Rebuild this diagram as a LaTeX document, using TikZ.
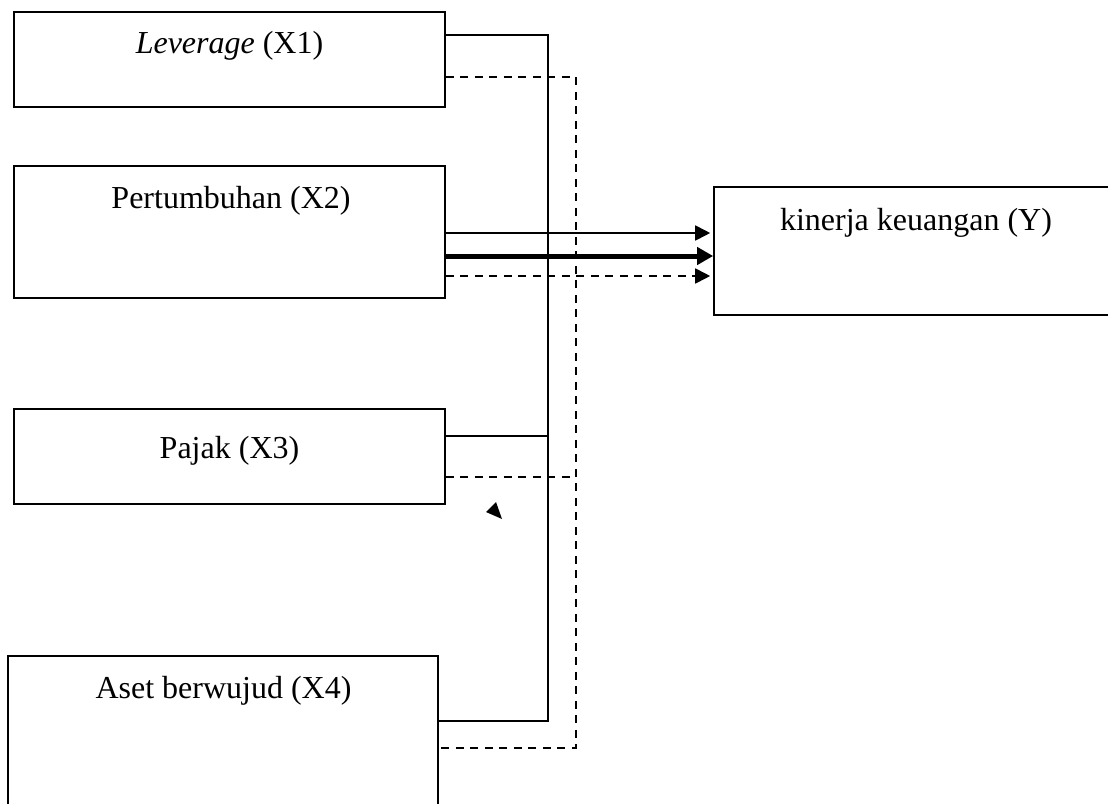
\documentclass[tikz,border=0pt]{standalone}
\usepackage{fontspec}
\setmainfont{Liberation Serif}
\usetikzlibrary{arrows.meta,calc}
\tikzset{
  boxnode/.style={draw, line width=1.6pt, inner sep=0pt, rectangle},
  lbl/.style={anchor=base, inner sep=0pt, font=\fontsize{32}{38}\selectfont},
  conn/.style={line width=1.8pt},
  dconn/.style={line width=1.8pt, dash pattern=on 8pt off 6.5pt},
  tip/.style={-{Triangle[length=15pt,width=15pt]}, shorten >=3pt},
  bigtip/.style={-{Triangle[length=16pt,width=17pt]}, line width=5pt},
}
\begin{document}
\begin{tikzpicture}[x=1pt,y=-1pt]
\path[use as bounding box, clip] (0,0) rectangle (1108,803);
\fill[white] (0,0) rectangle (1108,803);

% boxes
\node[boxnode, minimum width=431pt, minimum height=95pt] (x1) at (229.5,59.5) {};
\node[boxnode, minimum width=431pt, minimum height=132pt] (x2) at (229.5,232) {};
\node[boxnode, minimum width=431pt, minimum height=95pt] (x3) at (229.5,456.5) {};
\node[boxnode, minimum width=430pt, minimum height=180pt] (x4) at (223,746) {};
\node[boxnode, minimum width=430pt, minimum height=128pt] (y) at (929,251) {};

% labels
\node[lbl] (t1) at (229.5,53) {\textit{Leverage} (X1)};
\node[lbl] (t2) at (231,208) {Pertumbuhan (X2)};
\node[lbl] (t3) at (229.5,458) {Pajak (X3)};
\node[lbl] (t4) at (223.5,698) {Aset berwujud (X4)};
\node[lbl] (ty) at (916,230) {kinerja keuangan (Y)};

% junction coordinates
\coordinate (s1) at (548,35);
\coordinate (s3) at (548,436);
\coordinate (s4) at (548,721);
\coordinate (d1) at (576,77);
\coordinate (d3) at (576,477);
\coordinate (d4) at (576,748);
\coordinate (a1) at (0,233);
\coordinate (a2) at (0,256);
\coordinate (a3) at (0,276);

% solid bus
\draw[conn] (x1.east |- s1) -- (s1) -- (s4) -- (x4.east |- s4);
\draw[conn] (x3.east |- s3) -- (s3);
% dashed bus
\draw[dconn] (x1.east |- d1) -- (d1) -- (d4) -- (x4.east |- d4);
\draw[dconn] (x3.east |- d3) -- (d3);

% arrows from X2 to Y
\draw[conn, tip] (x2.east |- a1) -- (y.west |- a1);
\draw[bigtip] (x2.east |- a2) -- (y.west |- a2);
\draw[dconn, tip] (x2.east |- a3) -- (y.west |- a3);

% stray small arrowhead
\fill (486,512) -- (496,502) -- (502,519) -- cycle;
\end{tikzpicture}
\end{document}
